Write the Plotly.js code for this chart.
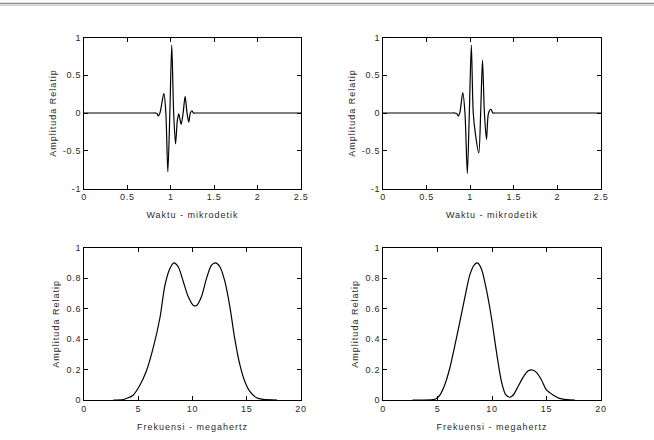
<!DOCTYPE html>
<html><head><meta charset="utf-8">
<script src="https://cdn.plot.ly/plotly-3.0.1.min.js"></script>
<style>html,body{margin:0;padding:0;background:#fff}#chart{width:654px;height:440px}
#chart svg text{letter-spacing:0.75px}
#chart svg text[class*="title"]{letter-spacing:1px}</style>
</head><body><div id="chart"></div>
<script>
// Top-left pulse (time in microseconds, relative amplitude)
const pulse1X = [0, 0.78, 0.82, 0.84, 0.855, 0.875, 0.92, 0.943, 0.966, 0.989, 1.011, 1.033, 1.055, 1.075, 1.092, 1.105, 1.12, 1.142, 1.165, 1.187, 1.207, 1.225, 1.243, 1.26, 1.28, 1.31, 1.36, 2.5];
const pulse1Y = [0, 0, 0, -0.005, -0.04, 0, 0.26, 0, -0.78, 0, 0.9, 0, -0.41, -0.1, -0.01, -0.08, -0.15, 0, 0.22, 0, -0.12, 0, 0.03, 0, 0, 0, 0, 0];
// Top-right pulse
const pulse2X = [0, 0.78, 0.82, 0.845, 0.862, 0.88, 0.915, 0.94, 0.967, 0.99, 1.013, 1.035, 1.06, 1.098, 1.12, 1.141, 1.163, 1.187, 1.21, 1.238, 1.26, 1.28, 1.31, 1.36, 2.5];
const pulse2Y = [0, 0, 0, -0.005, -0.04, 0, 0.27, 0, -0.8, 0, 0.9, 0, -0.28, -0.53, 0, 0.7, 0, -0.35, 0, 0.05, 0, 0, 0, 0, 0];
// Bottom-left spectrum (MHz)
const spec1X = [2.7, 3.6, 3.9, 4.5, 5.1, 5.75, 6.37, 7.0, 7.45, 7.9, 8.28, 8.68, 9.14, 9.6, 10.1, 10.37, 10.83, 11.3, 11.75, 12.12, 12.52, 12.98, 13.45, 13.9, 14.37, 14.83, 15.3, 15.9, 16.5, 17.8];
const spec1Y = [0, 0.002, 0.01, 0.03, 0.09, 0.19, 0.34, 0.54, 0.75, 0.86, 0.9, 0.875, 0.78, 0.68, 0.62, 0.62, 0.68, 0.8, 0.885, 0.9, 0.875, 0.78, 0.61, 0.4, 0.23, 0.12, 0.055, 0.015, 0.004, 0];
// Bottom-right spectrum
const spec2X = [2.7, 4.6, 4.9, 5.2, 5.67, 6.13, 6.6, 7.04, 7.5, 7.96, 8.36, 8.67, 9.03, 9.5, 9.95, 10.4, 10.87, 11.24, 11.64, 11.95, 12.4, 12.86, 13.3, 13.7, 14.1, 14.55, 15.0, 15.6, 16.2, 16.85, 17.6];
const spec2Y = [0, 0.002, 0.01, 0.03, 0.1, 0.21, 0.36, 0.51, 0.67, 0.82, 0.886, 0.9, 0.86, 0.72, 0.54, 0.32, 0.12, 0.037, 0.018, 0.033, 0.09, 0.15, 0.19, 0.197, 0.18, 0.13, 0.066, 0.033, 0.011, 0.002, 0];

// Tick labels
const timeTickVals = [0, 0.5, 1, 1.5, 2, 2.5];
const timeTickText = ["0", "0.5", "1", "1.5", "2", "2.5"];
const ampTickVals = [-1, -0.5, 0, 0.5, 1];
const ampTickText = ["-1", "-0.5", "0", "0.5", "1"];
const freqTickVals = [0, 5, 10, 15, 20];
const freqTickText = ["0", "5", "10", "15", "20"];
const specTickVals = [0, 0.2, 0.4, 0.6, 0.8, 1];
const specTickText = ["0", "0.2", "0.4", "0.6", "0.8", "1"];

const xTitleTime = "Waktu - mikrodetik";
const xTitleFreq = "Frekuensi - megahertz";
const yTitle = "Amplituda Relatip";

const lineStyle = {color: '#000', width: 1.2, shape: 'spline', smoothing: 0.8};
const traces = [
  {x: pulse1X, y: pulse1Y, xaxis: 'x', yaxis: 'y', mode: 'lines', line: lineStyle},
  {x: pulse2X, y: pulse2Y, xaxis: 'x2', yaxis: 'y2', mode: 'lines', line: lineStyle},
  {x: spec1X, y: spec1Y, xaxis: 'x3', yaxis: 'y3', mode: 'lines', line: lineStyle},
  {x: spec2X, y: spec2Y, xaxis: 'x4', yaxis: 'y4', mode: 'lines', line: lineStyle}
];

const font = {family: 'Liberation Sans, Arial, sans-serif', size: 9, color: '#2a2a2a'};
const common = {showline: true, mirror: 'ticks', linecolor: '#000', linewidth: 1,
  ticks: 'inside', ticklen: 4, tickcolor: '#000', showgrid: false, zeroline: false, tickfont: font};
function xa(domain, range, vals, text, title, anchor) {
  return Object.assign({domain: domain, range: range, anchor: anchor, tickmode: 'array',
    tickvals: vals, ticktext: text, title: {text: title, font: font, standoff: 10}}, common);
}
function ya(domain, range, vals, text, anchor) {
  return Object.assign({domain: domain, range: range, anchor: anchor, tickmode: 'array',
    tickvals: vals, ticktext: text, title: {text: yTitle, font: font, standoff: 7}}, common);
}
const dxL = [84/654, 301/654], dxR = [383/654, 601/654];
const dyT = [1-188.5/440, 1-37.5/440], dyB = [1-400/440, 1-247.7/440];

const layout = {
  width: 654, height: 440, showlegend: false,
  paper_bgcolor: '#fff', plot_bgcolor: '#fff',
  margin: {l: 0, r: 0, t: 0, b: 0},
  xaxis: xa(dxL, [0, 2.5], timeTickVals, timeTickText, xTitleTime, 'y'),
  yaxis: ya(dyT, [-1, 1], ampTickVals, ampTickText, 'x'),
  xaxis2: xa(dxR, [0, 2.5], timeTickVals, timeTickText, xTitleTime, 'y2'),
  yaxis2: ya(dyT, [-1, 1], ampTickVals, ampTickText, 'x2'),
  xaxis3: xa(dxL, [0, 20], freqTickVals, freqTickText, xTitleFreq, 'y3'),
  yaxis3: ya(dyB, [0, 1], specTickVals, specTickText, 'x3'),
  xaxis4: xa(dxR, [0, 20], freqTickVals, freqTickText, xTitleFreq, 'y4'),
  yaxis4: ya(dyB, [0, 1], specTickVals, specTickText, 'x4'),
  shapes: [
    {type: 'line', xref: 'paper', yref: 'paper', x0: 0, x1: 1, y0: 1-3.5/440, y1: 1-3.5/440, line: {color: '#8a8a8a', width: 1.5}},
    {type: 'line', xref: 'paper', yref: 'paper', x0: 0, x1: 1, y0: 1-5.5/440, y1: 1-5.5/440, line: {color: '#d0d0d0', width: 1}}
  ]
};
Plotly.newPlot('chart', traces, layout, {staticPlot: true});
</script></body></html>
